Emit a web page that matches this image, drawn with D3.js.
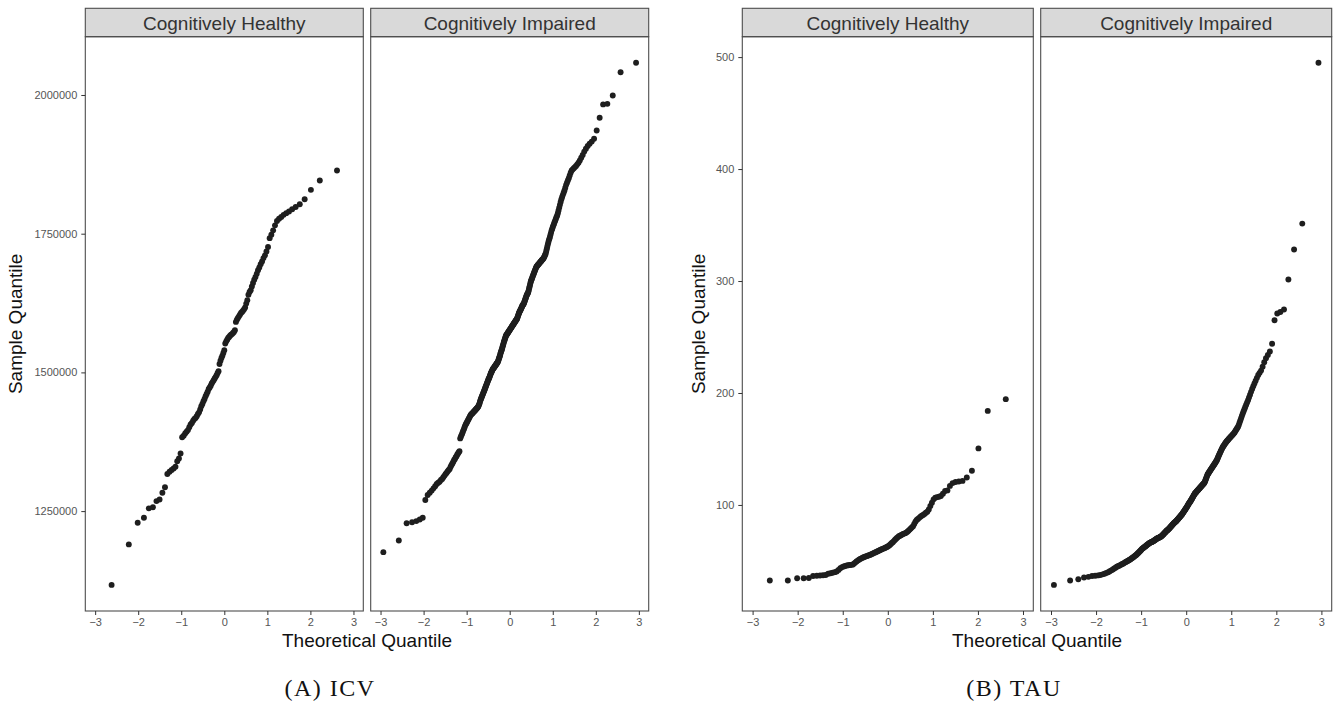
<!DOCTYPE html>
<html>
<head>
<meta charset="utf-8">
<style>
    body { margin: 0; background: #fff; }
    svg { display: block; font-family: "Liberation Sans", Arial, sans-serif; }
    .tick text { font-size: 11px; fill: #555; }
    .tick line { stroke: #333; }
    .strip-label { font-size: 19px; fill: #333; }
    .axis-title { font-size: 19px; fill: #111; }
    .caption { font-family: "Liberation Serif", "DejaVu Serif", serif; font-size: 24px; fill: #111; letter-spacing: 1.5px; }
</style>
</head>
<body>
<svg width="1335" height="704"></svg>

<script src="https://d3js.org/d3.v7.min.js"></script>
<script>
// facet names and tick values
const groups = ["Cognitively Healthy", "Cognitively Impaired"];
const xTicks = [-3, -2, -1, 0, 1, 2, 3];
const icvTicks = [1250000, 1500000, 1750000, 2000000];
const tauTicks = [100, 200, 300, 400, 500];

// sorted sample values
const icvHealthy = [
  1117e3,1190e3,1229e3,1238e3,1255e3,1257e3,1268e3,1271e3,1283e3,1293e3,
  1317e3,1321e3,1324e3,1327e3,1330e3,1340e3,1345e3,1354e3,1383e3,1386e3,
  1390e3,1393e3,1396e3,1401e3,1406e3,1409e3,1413e3,1416e3,1418e3,1421e3,
  1425e3,1428e3,1433e3,1439e3,1443e3,1448e3,1452e3,1457e3,1461e3,1465e3,
  1470e3,1473e3,1476e3,1480e3,1483e3,1486e3,1489e3,1492e3,1495e3,1499e3,
  1502e3,1515e3,1521e3,1526e3,1530e3,1535e3,1540e3,1552e3,1556e3,1559e3,
  1562e3,1564e3,1566e3,1568e3,1569e3,1571e3,1573e3,1576e3,1591e3,1595e3,
  1598e3,1601e3,1604e3,1607e3,1609e3,1611e3,1614e3,1617e3,1624e3,1630e3,
  1640e3,1645e3,1648e3,1655e3,1661e3,1667e3,1672e3,1678e3,1684e3,1689e3,
  1695e3,1700e3,1706e3,1711e3,1718e3,1726e3,1742e3,1748e3,1756e3,1765e3,
  1773e3,1777e3,1780e3,1784e3,1787e3,1790e3,1794e3,1798e3,1803e3,1812e3,
  1829e3,1846e3,1864e3
];

const icvImpaired = [
  1176e3,1197e3,1228e3,1230e3,1232e3,1235e3,1238e3,1270e3,1279e3,1283e3,
  1287e3,1291e3,1295e3,1299e3,1301e3,1303e3,1306e3,1308e3,1311e3,1314e3,
  1317e3,1319e3,1322e3,1324e3,1326e3,1330e3,1333e3,1336e3,1339e3,1342e3,
  1344e3,1347e3,1349e3,1352e3,1354e3,1356e3,1358e3,1381e3,1384e3,1387e3,
  1390e3,1393e3,1396e3,1399e3,1402e3,1405e3,1407e3,1409e3,1411e3,1413e3,
  1415e3,1417e3,1419e3,1421e3,1423e3,1424e3,1425e3,1426e3,1427e3,1428e3,
  1429e3,1430e3,1431e3,1432e3,1433e3,1434e3,1435e3,1436e3,1437e3,1438e3,
  1440e3,1442e3,1444e3,1447e3,1450e3,1452e3,1454e3,1456e3,1458e3,1460e3,
  1462e3,1464e3,1466e3,1468e3,1470e3,1472e3,1474e3,1476e3,1478e3,1480e3,
  1482e3,1484e3,1486e3,1488e3,1489e3,1491e3,1493e3,1495e3,1497e3,1499e3,
  1500e3,1502e3,1503e3,1505e3,1506e3,1507e3,1508e3,1509e3,1510e3,1511e3,
  1512e3,1513e3,1514e3,1515e3,1516e3,1517e3,1518e3,1519e3,1521e3,1523e3,
  1525e3,1527e3,1529e3,1531e3,1534e3,1536e3,1538e3,1540e3,1542e3,1544e3,
  1547e3,1549e3,1551e3,1554e3,1556e3,1558e3,1560e3,1562e3,1564e3,1566e3,
  1567e3,1568e3,1569e3,1570e3,1571e3,1572e3,1573e3,1574e3,1575e3,1576e3,
  1577e3,1578e3,1579e3,1580e3,1581e3,1582e3,1583e3,1584e3,1585e3,1586e3,
  1587e3,1588e3,1589e3,1590e3,1591e3,1592e3,1593e3,1594e3,1595e3,1596e3,
  1597e3,1599e3,1601e3,1603e3,1605e3,1607e3,1608e3,1610e3,1611e3,1612e3,
  1614e3,1615e3,1617e3,1618e3,1620e3,1621e3,1622e3,1623e3,1624e3,1626e3,
  1628e3,1630e3,1632e3,1634e3,1636e3,1638e3,1640e3,1641e3,1642e3,1644e3,
  1646e3,1649e3,1652e3,1655e3,1658e3,1661e3,1664e3,1666e3,1668e3,1670e3,
  1672e3,1674e3,1676e3,1678e3,1680e3,1682e3,1684e3,1686e3,1688e3,1690e3,
  1691e3,1692e3,1693e3,1694e3,1695e3,1696e3,1697e3,1698e3,1699e3,1700e3,
  1701e3,1702e3,1703e3,1704e3,1705e3,1706e3,1708e3,1710e3,1712e3,1714e3,
  1718e3,1722e3,1726e3,1730e3,1734e3,1738e3,1741e3,1744e3,1748e3,1752e3,
  1756e3,1759e3,1762e3,1765e3,1768e3,1771e3,1774e3,1777e3,1780e3,1783e3,
  1787e3,1792e3,1797e3,1802e3,1807e3,1812e3,1816e3,1820e3,1824e3,1828e3,
  1833e3,1838e3,1842e3,1846e3,1850e3,1855e3,1860e3,1864e3,1866e3,1868e3,
  1870e3,1872e3,1875e3,1878e3,1882e3,1887e3,1892e3,1898e3,1903e3,1908e3,
  1912e3,1916e3,1921e3,1936e3,1959e3,1983e3,1984e3,1999e3,2041e3,2058e3
];

const tauHealthy = [
  32.5,32.5,34.5,34.5,34.7,36.5,36.8,37.0,37.2,37.4,
  38.5,39.0,39.5,40.0,40.5,42.0,43.5,44.5,45.0,45.5,
  46.0,46.2,46.4,46.5,46.7,47.5,48.5,49.5,50.3,51.0,
  51.8,52.3,52.8,53.3,53.7,54.1,54.5,54.9,55.2,55.5,
  56.0,56.5,57.0,57.4,57.8,58.2,58.7,59.1,59.6,60.0,
  60.4,60.8,61.2,61.6,62.0,62.4,62.9,63.5,64.3,65.2,
  66.0,66.8,67.7,68.7,69.6,70.5,71.3,72.0,72.5,73.0,
  73.5,74.0,74.4,74.8,75.3,76.0,77.0,78.0,79.0,80.0,
  81.0,83.0,85.0,86.5,87.5,88.5,89.5,90.3,91.0,92.0,
  93.0,94.0,96.0,99.0,102.0,105.0,106.5,107.0,107.3,108.0,
  110.0,112.5,113.0,117.0,119.5,120.5,121.0,121.5,124.5,130.5,
  150.5,184.0,194.5
];

const tauImpaired = [
  28.6,32.5,33.7,35.2,35.8,36.5,36.8,37.1,37.5,38.0,
  38.6,39.3,40.0,40.8,41.6,42.4,43.2,44.0,44.8,45.3,
  45.8,46.3,46.8,47.3,47.8,48.3,48.8,49.3,49.7,50.1,
  50.6,51.1,51.6,52.1,52.6,53.1,53.6,54.1,54.6,55.1,
  55.6,56.2,56.8,57.4,58.0,58.6,59.2,59.8,60.4,61.0,
  61.4,61.8,62.2,62.6,63.0,63.4,63.8,64.2,64.6,65.0,
  65.4,65.7,66.0,66.3,66.6,66.8,67.0,67.2,67.4,67.6,
  67.9,68.2,68.5,68.8,69.1,69.4,69.7,70.0,70.2,70.4,
  70.6,70.8,71.0,71.2,71.4,71.6,71.9,72.2,72.5,72.9,
  73.3,73.7,74.1,74.5,74.9,75.3,75.7,76.1,76.5,76.9,
  77.2,77.5,77.8,78.1,78.5,78.9,79.3,79.7,80.1,80.5,
  80.9,81.3,81.7,82.1,82.5,82.9,83.3,83.6,84.0,84.3,
  84.6,84.9,85.2,85.5,85.9,86.3,86.7,87.1,87.5,87.9,
  88.3,88.7,89.1,89.5,89.9,90.3,90.7,91.1,91.5,92.0,
  92.5,93.0,93.5,94.0,94.5,95.0,95.5,96.0,96.5,97.0,
  97.5,98.0,98.6,99.2,99.8,100.4,101.0,101.5,102.0,102.5,
  103.0,103.5,104.0,104.6,105.2,105.8,106.4,107.0,107.6,108.2,
  108.8,109.4,110.0,110.4,110.8,111.2,111.6,112.0,112.4,112.8,
  113.2,113.6,114.0,114.4,114.8,115.2,115.6,116.0,116.4,116.8,
  117.2,117.6,118.0,118.4,118.8,119.2,119.6,120.2,121.0,122.0,
  123.0,124.0,125.0,126.0,127.0,127.6,128.2,128.8,129.4,130.0,
  130.6,131.2,131.8,132.4,133.0,133.6,134.2,134.8,135.4,136.0,
  136.6,137.2,137.9,138.6,139.3,140.0,141.0,142.0,143.0,144.0,
  145.0,146.0,147.0,148.0,149.0,149.9,150.8,151.7,152.5,153.2,
  153.9,154.6,155.3,156.0,156.7,157.3,157.9,158.5,159.1,159.7,
  160.3,160.9,161.5,162.1,162.7,163.3,164.0,164.8,165.8,166.8,
  167.8,168.8,169.8,171.5,173.5,175.5,177.5,179.5,181.5,183.5,
  185.5,187.5,189.5,191.5,193.5,196.0,198.5,201.0,203.5,206.0,
  208.5,211.0,213.5,216.0,218.0,220.0,223.5,227.5,231.0,234.0,
  237.0,244.0,265.0,271.0,272.4,274.6,301.3,328.1,351.3,494.9
];

// inverse normal cdf (Acklam), used for the theoretical quantiles
function qnorm(p) {
    const a = [-3.969683028665376e+01, 2.209460984245205e+02, -2.759285104469687e+02, 1.383577518672690e+02, -3.066479806614716e+01, 2.506628277459239e+00];
    const b = [-5.447609879822406e+01, 1.615858368580409e+02, -1.556989798598866e+02, 6.680131188771972e+01, -1.328068155288572e+01];
    const c = [-7.784894002430293e-03, -3.223964580411365e-01, -2.400758277161838e+00, -2.549671348838834e+00, 4.374664141464968e+00, 2.938163982698783e+00];
    const d = [7.784695709041462e-03, 3.224671290700398e-01, 2.445134137142996e+00, 3.754408661907416e+00];
    const pl = 0.02425;
    let q, r;
    if (p < pl) {
        q = Math.sqrt(-2 * Math.log(p));
        return (((((c[0]*q+c[1])*q+c[2])*q+c[3])*q+c[4])*q+c[5]) / ((((d[0]*q+d[1])*q+d[2])*q+d[3])*q+1);
    }
    if (p > 1 - pl) {
        q = Math.sqrt(-2 * Math.log(1 - p));
        return -(((((c[0]*q+c[1])*q+c[2])*q+c[3])*q+c[4])*q+c[5]) / ((((d[0]*q+d[1])*q+d[2])*q+d[3])*q+1);
    }
    q = p - 0.5; r = q * q;
    return (((((a[0]*r+a[1])*r+a[2])*r+a[3])*r+a[4])*r+a[5])*q / (((((b[0]*r+b[1])*r+b[2])*r+b[3])*r+b[4])*r+1);
}

// qqnorm style pairs
function qq(values) {
    let n = values.length;
    let a = n <= 10 ? 3 / 8 : 0.5;
    return values.map((v, i) => ({ theo: qnorm((i + 1 - a) / (n + 1 - 2 * a)), sample: v }));
}

// ggplot style 5% expansion
function expand(ext) {
    let pad = (ext[1] - ext[0]) * 0.05;
    return [ext[0] - pad, ext[1] + pad];
}

let svg = d3.select("svg");

let stripTop = 8.3, stripH = 28.4, panelBottom = 611, gap = 7.4;
let panelTop = stripTop + stripH;

function drawFigure(fig) {
    let sets = [qq(fig.healthy), qq(fig.impaired)];
    let all = sets[0].concat(sets[1]);

    let y = d3.scaleLinear()
        .domain(expand(d3.extent(all, d => d.sample)))
        .range([panelBottom, panelTop]);

    sets.forEach((pts, k) => {
        let left = fig.left + k * (fig.panelW + gap);
        let x = d3.scaleLinear()
            .domain(expand(d3.extent(all, d => d.theo)))
            .range([left, left + fig.panelW]);

        let g = svg.append("g");

        // strip
        g.append("rect")
            .attr("x", left).attr("y", stripTop)
            .attr("width", fig.panelW).attr("height", stripH)
            .attr("fill", "#d9d9d9").attr("stroke", "#4d4d4d").attr("stroke-width", 1.1);
        g.append("text")
            .attr("class", "strip-label")
            .attr("x", left + fig.panelW / 2).attr("y", stripTop + 22)
            .attr("text-anchor", "middle")
            .text(groups[k]);

        // points
        g.append("g")
            .selectAll("circle")
            .data(pts)
            .join("circle")
            .attr("cx", d => x(d.theo))
            .attr("cy", d => y(d.sample))
            .attr("r", 2.95)
            .attr("fill", "#1e1e1e");

        // panel border
        g.append("rect")
            .attr("x", left).attr("y", panelTop)
            .attr("width", fig.panelW).attr("height", panelBottom - panelTop)
            .attr("fill", "none").attr("stroke", "#4d4d4d").attr("stroke-width", 1.1);

        // x axis
        g.append("g")
            .attr("transform", `translate(0,${panelBottom})`)
            .call(d3.axisBottom(x).tickValues(xTicks).tickFormat(d3.format("d")).tickSize(4).tickPadding(3))
            .call(s => s.select(".domain").remove());

        // y axis only on the first panel
        if (k == 0) {
            g.append("g")
                .attr("transform", `translate(${left},0)`)
                .call(d3.axisLeft(y).tickValues(fig.yTicks).tickFormat(d3.format("d")).tickSize(4).tickPadding(4))
                .call(s => s.select(".domain").remove());
        }
    });

    svg.append("text")
        .attr("class", "axis-title")
        .attr("transform", `translate(${fig.yTitleX},${(panelTop + panelBottom) / 2}) rotate(-90)`)
        .attr("text-anchor", "middle")
        .text("Sample Quantile");

    svg.append("text")
        .attr("class", "axis-title")
        .attr("x", fig.xTitleX).attr("y", 647)
        .attr("text-anchor", "middle")
        .text("Theoretical Quantile");

    svg.append("text")
        .attr("class", "caption")
        .attr("x", fig.captionX).attr("y", 696)
        .attr("text-anchor", "middle")
        .text(fig.caption);
}

drawFigure({ left: 85.3, panelW: 278, healthy: icvHealthy, impaired: icvImpaired, yTicks: icvTicks,
             yTitleX: 22, xTitleX: 367, caption: "(A) ICV", captionX: 330 });

drawFigure({ left: 742.3, panelW: 291, healthy: tauHealthy, impaired: tauImpaired, yTicks: tauTicks,
             yTitleX: 705, xTitleX: 1037, caption: "(B) TAU", captionX: 1014 });
</script>
</body>
</html>
